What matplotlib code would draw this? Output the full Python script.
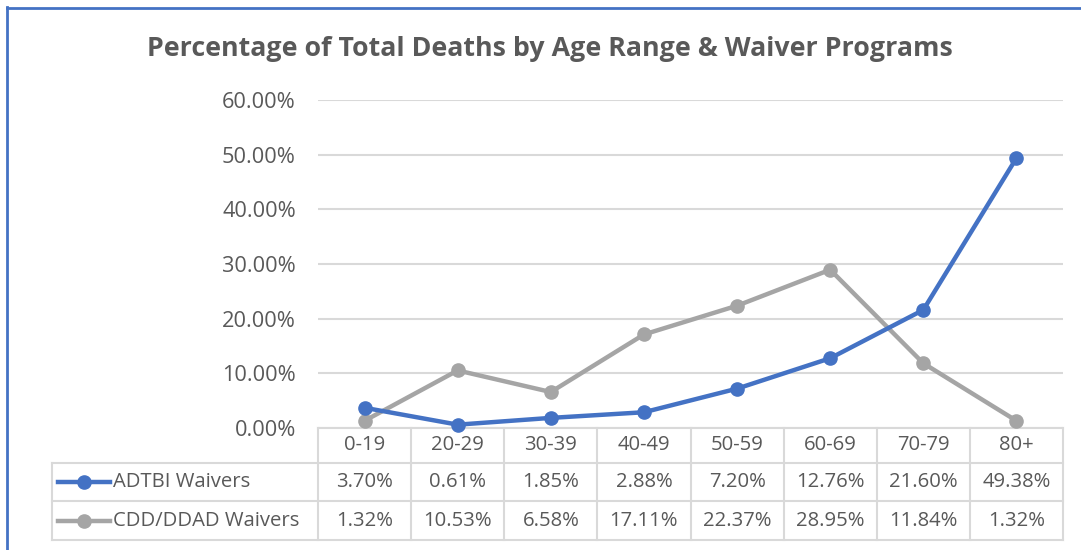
import matplotlib.pyplot as plt
from matplotlib.lines import Line2D


W, H = 1081, 550
FONT = "Open Sans"
TEXT_COLOR = "#595959"
GRID_COLOR = "#D9D9D9"
BLUE = "#4472C4"
GRAY = "#A5A5A5"

# Data
age_ranges = ["0-19", "20-29", "30-39", "40-49", "50-59", "60-69", "70-79", "80+"]
adtbi = [3.70, 0.61, 1.85, 2.88, 7.20, 12.76, 21.60, 49.38]
cdd_ddad = [1.32, 10.53, 6.58, 17.11, 22.37, 28.95, 11.84, 1.32]
series_names = ["ADTBI Waivers", "CDD/DDAD Waivers"]
y_ticks = [0, 10, 20, 30, 40, 50, 60]

# Layout in pixels
AX_LEFT, AX_RIGHT = 318, 1063
AX_TOP, AX_BOTTOM = 100, 428
ROW_EDGES = [428, 463, 501, 540]
TABLE_LEFT = 52


def px_to_fig(x, y):
    return x / W, 1 - y / H


def ax_y(py):
    # pixel row -> axes fraction
    return (AX_BOTTOM - py) / (AX_BOTTOM - AX_TOP)


def ax_x(px):
    return (px - AX_LEFT) / (AX_RIGHT - AX_LEFT)


fig = plt.figure(figsize=(W / 100, H / 100), dpi=100)
l, b = px_to_fig(AX_LEFT, AX_BOTTOM)
ax = fig.add_axes([l, b, (AX_RIGHT - AX_LEFT) / W, (AX_BOTTOM - AX_TOP) / H])

x = list(range(len(age_ranges)))
ax.plot(x, adtbi, color=BLUE, lw=3.2, marker="o", ms=9.5, clip_on=False, zorder=5)
ax.plot(x, cdd_ddad, color=GRAY, lw=3.2, marker="o", ms=9.5, clip_on=False, zorder=4)

ax.set_xlim(-0.5, len(age_ranges) - 0.5)
ax.set_ylim(0, 60)
ax.set_yticks(y_ticks)
ax.set_yticklabels([f"{t:.2f}%" for t in y_ticks], fontsize=15.7,
                   color=TEXT_COLOR, family=FONT)
ax.tick_params(axis="y", length=0, pad=16)
ax.set_xticks([])
ax.grid(axis="y", color=GRID_COLOR, lw=1.5)
ax.set_axisbelow(True)
for s in ax.spines.values():
    s.set_visible(False)

# Title
tx, ty = px_to_fig(550, 49)
fig.text(tx, ty, "Percentage of Total Deaths by Age Range & Waiver Programs",
         ha="center", va="center", fontsize=19.3, fontweight="bold",
         color=TEXT_COLOR, family=FONT)

# Data table below the axes
xt = ax.get_xaxis_transform()
tbl_kw = dict(color=GRID_COLOR, lw=1.5, clip_on=False)
top_y = ax_y(ROW_EDGES[0])
bot_y = ax_y(ROW_EDGES[-1])
# horizontal lines
ax.plot([-0.5, len(age_ranges) - 0.5], [top_y, top_y], transform=xt, **tbl_kw)
for py in ROW_EDGES[1:]:
    ax.plot([ax_x(TABLE_LEFT), 1], [ax_y(py)] * 2, transform=ax.transAxes, **tbl_kw)
# vertical lines
for i in range(len(age_ranges) + 1):
    ax.plot([i - 0.5] * 2, [top_y, bot_y], transform=xt, **tbl_kw)
ax.plot([ax_x(TABLE_LEFT)] * 2, [ax_y(ROW_EDGES[1]), bot_y],
        transform=ax.transAxes, **tbl_kw)

txt_kw = dict(ha="center", va="center", fontsize=14.6, color=TEXT_COLOR,
              family=FONT, clip_on=False)
header_y = ax_y((ROW_EDGES[0] + ROW_EDGES[1]) / 2)
for i, label in enumerate(age_ranges):
    ax.text(i, header_y, label, transform=xt, **txt_kw)

rows = [adtbi, cdd_ddad]
colors = [BLUE, GRAY]
for r, (vals, name, c) in enumerate(zip(rows, series_names, colors)):
    ry = ax_y((ROW_EDGES[r + 1] + ROW_EDGES[r + 2]) / 2)
    for i, v in enumerate(vals):
        ax.text(i, ry, f"{v:.2f}%", transform=xt, **txt_kw)
    ax.plot([ax_x(58), ax_x(110)], [ry, ry], color=c, lw=3.2,
            transform=ax.transAxes, clip_on=False)
    ax.plot([ax_x(84)], [ry], color=c, marker="o", ms=9.5,
            transform=ax.transAxes, clip_on=False)
    ax.text(ax_x(113), ry, name, ha="left", va="center", fontsize=14.6,
            color=TEXT_COLOR, family=FONT, transform=ax.transAxes, clip_on=False)

# Blue chart border (left and top)
fig.add_artist(Line2D([7 / W, 7 / W], [0, 1 - 7 / H], color=BLUE, lw=2))
fig.add_artist(Line2D([7 / W, 1], [1 - 8 / H, 1 - 8 / H], color=BLUE, lw=2))

fig.savefig("out.png", dpi=100)
